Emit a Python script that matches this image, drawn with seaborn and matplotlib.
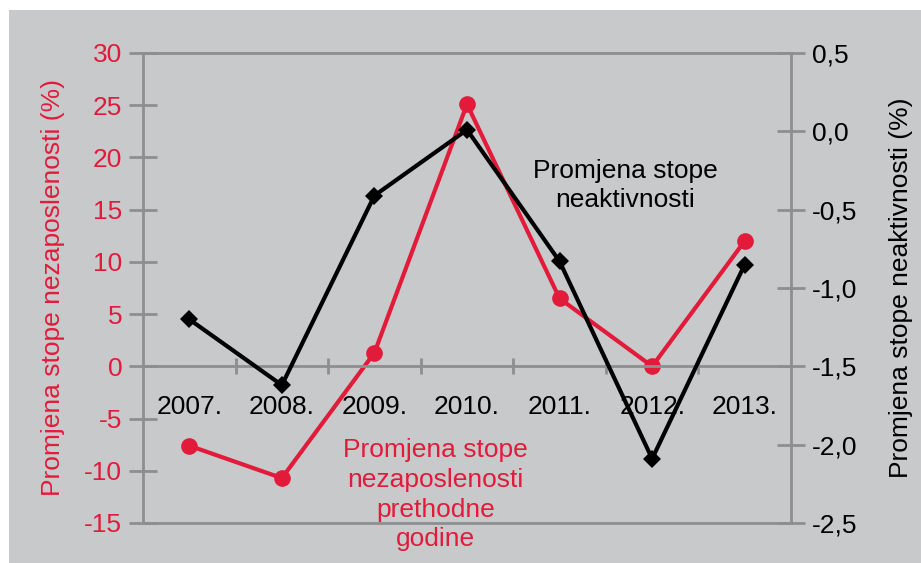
import numpy as np
import pandas as pd
import matplotlib
matplotlib.use('Agg')
import matplotlib.pyplot as plt
import seaborn as sns
from matplotlib.patches import Rectangle

years = ['2007.', '2008.', '2009.', '2010.', '2011.', '2012.', '2013.']
unemployment_change = [-7.6, -10.7, 1.3, 25.1, 6.5, 0.0, 12.0]
inactivity_change = [-1.20, -1.62, -0.41, 0.01, -0.83, -2.09, -0.85]

left_ticks = [30, 25, 20, 15, 10, 5, 0, -5, -10, -15]
right_ticks = [0.5, 0.0, -0.5, -1.0, -1.5, -2.0, -2.5]
right_labels = ['0,5', '0,0', '-0,5', '-1,0', '-1,5', '-2,0', '-2,5']

red = '#e31b3b'
bg = '#c8c9cb'
spine_gray = '#8e8e8e'
fs = 19

sns.set_theme(style='white')
plt.rcParams['font.family'] = ['Liberation Sans', 'DejaVu Sans']

df = pd.DataFrame({'pos': np.arange(len(years)), 'year': years,
                   'unemp': unemployment_change, 'inact': inactivity_change})

fig = plt.figure(figsize=(9.21, 5.63), dpi=100)
fig.patch.set_facecolor('white')
fig.patches.append(Rectangle((9 / 921, 0), 1, 1 - 10 / 563, transform=fig.transFigure,
                             facecolor=bg, edgecolor='none', zorder=-10))

ax = fig.add_axes([143 / 921, 1 - 523 / 563, 648 / 921, 470 / 563])
ax.set_facecolor('none')
ax2 = ax.twinx()
ax2.set_facecolor('none')

sns.lineplot(data=df, x='pos', y='unemp', ax=ax, color=red, linewidth=3,
             marker='o', markersize=12, markeredgewidth=0)
sns.lineplot(data=df, x='pos', y='inact', ax=ax2, color='black', linewidth=3,
             marker='D', markersize=9, markeredgewidth=0)

ax.set_xlim(-0.5, 6.5)
ax.set_ylim(-15, 30)
ax2.set_ylim(-2.5, 0.5)

# left axis
ax.set_yticks(left_ticks)
ax.set_yticklabels([str(t) for t in left_ticks])
ax.tick_params(axis='y', colors=spine_gray, labelcolor=red, labelsize=fs,
               direction='inout', length=20, width=2, left=True, pad=5)
ax.set_ylabel('Promjena stope nezaposlenosti (%)', color=red, fontsize=fs, labelpad=14)

# x axis along zero line
ax.spines['bottom'].set_position(('data', 0))
ax.set_xticks(range(len(years)))
ax.set_xticklabels(years)
ax.set_xticks(np.arange(0.5, 6, 1), minor=True)
ax.tick_params(axis='x', which='major', length=0, labelsize=fs, labelcolor='black', pad=21)
ax.tick_params(axis='x', which='minor', direction='inout', length=12, width=2,
               color=spine_gray, bottom=True)
ax.set_xlabel('')
for s in ['left', 'bottom']:
    ax.spines[s].set_color(spine_gray)
    ax.spines[s].set_linewidth(2)
ax.spines['top'].set_visible(False)
ax.spines['right'].set_visible(False)

# right axis
ax2.set_yticks(right_ticks)
ax2.set_yticklabels(right_labels)
ax2.tick_params(axis='y', colors=spine_gray, labelcolor='black', labelsize=fs,
                direction='inout', length=20, width=2, right=True, pad=5)
ax2.set_ylabel('Promjena stope neaktivnosti (%)', color='black', fontsize=fs, labelpad=23)
for s in ['top', 'bottom', 'right']:
    ax2.spines[s].set_color(spine_gray)
    ax2.spines[s].set_linewidth(2)
ax2.spines['left'].set_visible(False)

ax.text(4.71, 17.3, 'Promjena stope\nneaktivnosti', ha='center', va='center',
        fontsize=fs, color='black', linespacing=1.3)
ax.text(2.66, -12.3, 'Promjena stope\nnezaposlenosti\nprethodne\ngodine', ha='center',
        va='center', fontsize=fs, color=red, linespacing=1.3)

fig.savefig('out.png', dpi=100)
